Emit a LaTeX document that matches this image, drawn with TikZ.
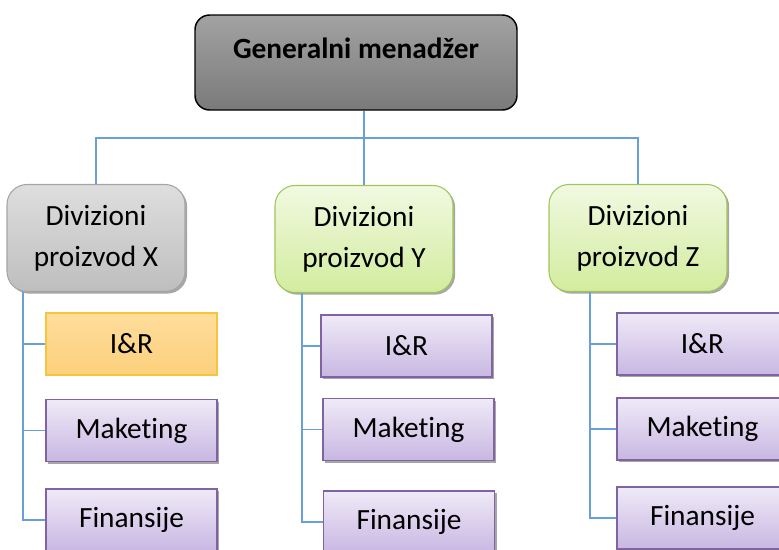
\documentclass[tikz,border=0pt]{standalone}
\usepackage{fontspec}
\setmainfont{Carlito}[Ligatures=NoCommon]
\usetikzlibrary{shadows}

\definecolor{vezaplava}{RGB}{105,160,218}
\definecolor{sivagore}{RGB}{162,162,162}
\definecolor{sivadole}{RGB}{122,122,122}
\definecolor{svijetlagore}{RGB}{222,222,222}
\definecolor{svijetladole}{RGB}{190,190,190}
\definecolor{sivirub}{RGB}{165,165,165}
\definecolor{zelenagore}{RGB}{241,249,225}
\definecolor{zelenadole}{RGB}{210,236,158}
\definecolor{zelenirub}{RGB}{160,198,90}
\definecolor{ljubgore}{RGB}{239,234,247}
\definecolor{ljubdole}{RGB}{200,183,226}
\definecolor{ljubrub}{RGB}{128,100,162}
\definecolor{narangore}{RGB}{254,221,156}
\definecolor{narandole}{RGB}{252,208,124}
\definecolor{naranrub}{RGB}{247,196,62}

\begin{document}
\begin{tikzpicture}[x=0.75pt, y=-0.75pt,
        every node/.style={font=\fontsize{22}{31}\selectfont, align=center, inner sep=0pt},
        sjena/.style={drop shadow={shadow xshift=1.6pt, shadow yshift=-1.6pt, opacity=0.35, fill=black}},
        menadzer/.style={draw=black, line width=1.1pt, rounded corners=11pt,
            top color=sivagore, bottom color=sivadole, font=\fontsize{22}{31}\selectfont\bfseries,
            minimum width=241.5pt, text height=32.25pt, text depth=39pt},
        divizija/.style={rounded corners=15pt, line width=0.8pt, sjena,
            minimum width=133.5pt, minimum height=80.25pt},
        sivadiv/.style={divizija, draw=sivirub, top color=svijetlagore, bottom color=svijetladole},
        zelenadiv/.style={divizija, draw=zelenirub, top color=zelenagore, bottom color=zelenadole},
        odjelbox/.style={minimum width=128.25pt, minimum height=46.5pt, line width=1.1pt},
        ljubodjel/.style={odjelbox, sjena, draw=ljubrub, top color=ljubgore, bottom color=ljubdole},
        naranodjel/.style={odjelbox, draw=naranrub, line width=0.8pt, top color=narangore, bottom color=narandole},
        veza/.style={draw=vezaplava, line width=0.9pt}
    ]
        \useasboundingbox (0,0) rectangle (779,550);
        \clip (0,0) rectangle (779,550);

        % vrh i divizije
        \node [menadzer, anchor=base] (gm) at (356,58) {Generalni menadžer};
        \node [sivadiv] (dx) at (96,238) {Divizioni\\proizvod X};
        \node [zelenadiv] (dy) at (364,239) {Divizioni\\proizvod Y};
        \node [zelenadiv] (dz) at (638,238) {Divizioni\\proizvod Z};

        % odjeli
        \node [naranodjel] (ix) at (131.5,344) {I\&R};
        \node [ljubodjel] (mx) at (131.5,430.5) {Maketing};
        \node [ljubodjel] (fx) at (131.5,520) {Finansije};
        \node [ljubodjel] (iy) at (406.5,346) {I\&R};
        \node [ljubodjel] (my) at (408.5,429.5) {Maketing};
        \node [ljubodjel] (fy) at (409,522) {Finansije};
        \node [ljubodjel] (iz) at (702.5,344) {I\&R};
        \node [ljubodjel] (mz) at (702.5,429) {Maketing};
        \node [ljubodjel] (fz) at (702.5,518) {Finansije};

        % veze
        \coordinate (bus) at (0,138);
        \coordinate (sx) at (23,0);
        \coordinate (sy) at (302,0);
        \coordinate (sz) at (590,0);
        \draw[veza] (gm.south -| dy.north) -- (dy.north);
        \draw[veza] (dx.north) |- (bus -| dz.north) -- (dz.north);

        \draw[veza] (dx.south -| sx) |- (fx.west);
        \draw[veza] (dx.south -| sx) |- (ix.west);
        \draw[veza] (dx.south -| sx) |- (mx.west);
        \draw[veza] (dy.south -| sy) |- (fy.west);
        \draw[veza] (dy.south -| sy) |- (iy.west);
        \draw[veza] (dy.south -| sy) |- (my.west);
        \draw[veza] (dz.south -| sz) |- (fz.west);
        \draw[veza] (dz.south -| sz) |- (iz.west);
        \draw[veza] (dz.south -| sz) |- (mz.west);
    \end{tikzpicture}
\end{document}
